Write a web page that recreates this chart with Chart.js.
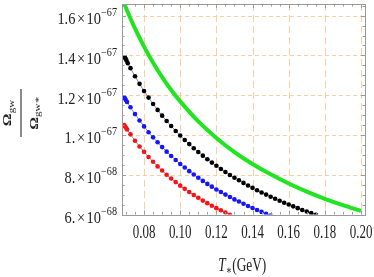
<!DOCTYPE html>
<html>
<head>
<meta charset="utf-8">
<script src="https://cdn.jsdelivr.net/npm/chart.js@4.4.1/dist/chart.umd.min.js"></script>
<style>
html, body { margin: 0; padding: 0; background: #fff; }
#wrap { width: 374px; height: 277px; }
</style>
</head>
<body>
<div id="wrap"><canvas id="c"></canvas></div>
<script>
// T* in GeV, Omega_gw/Omega_gw* in units of 1e-67
const tRed = [0.069, 0.0694, 0.0699, 0.0706, 0.0725, 0.075, 0.0775, 0.080, 0.0825, 0.085, 0.0875, 0.090, 0.0925, 0.095, 0.0975,
    0.100, 0.1025, 0.105, 0.1075, 0.110, 0.1125, 0.115, 0.1175, 0.120, 0.1225, 0.125, 0.1275];
const omegaRed = [1.050, 1.044, 1.037, 1.028, 1.003, 0.971, 0.942, 0.915, 0.889, 0.865, 0.842, 0.821, 0.800, 0.781, 0.763,
    0.745, 0.729, 0.713, 0.698, 0.684, 0.670, 0.657, 0.644, 0.632, 0.621, 0.610, 0.599];

const tBlue = [0.069, 0.0694, 0.0699, 0.0706, 0.0725, 0.075, 0.0775, 0.080, 0.0825, 0.085, 0.0875, 0.090, 0.0925, 0.095, 0.0975,
    0.100, 0.1025, 0.105, 0.1075, 0.110, 0.1125, 0.115, 0.1175, 0.120, 0.1225, 0.125, 0.1275, 0.130, 0.1325, 0.135, 0.1375,
    0.140, 0.1425, 0.145, 0.1475, 0.150];
const omegaBlue = [1.190, 1.184, 1.176, 1.166, 1.139, 1.105, 1.073, 1.043, 1.014, 0.988, 0.963, 0.939, 0.916, 0.894, 0.874,
    0.854, 0.836, 0.818, 0.801, 0.785, 0.769, 0.754, 0.740, 0.726, 0.713, 0.700, 0.688, 0.676, 0.665, 0.654, 0.643,
    0.633, 0.623, 0.613, 0.604, 0.595];

const tBlack = [0.0694, 0.0698, 0.0703, 0.0710, 0.0725, 0.075, 0.0775, 0.080, 0.0825, 0.085, 0.0875, 0.090, 0.0925, 0.095, 0.0975,
    0.100, 0.1025, 0.105, 0.1075, 0.110, 0.1125, 0.115, 0.1175, 0.120, 0.1225, 0.125, 0.1275, 0.130, 0.1325, 0.135, 0.1375,
    0.140, 0.1425, 0.145, 0.1475, 0.150, 0.1525, 0.155, 0.1575, 0.160, 0.1625, 0.165, 0.1675, 0.170, 0.1725, 0.175];
const omegaBlack = [1.390, 1.383, 1.374, 1.361, 1.336, 1.295, 1.257, 1.221, 1.188, 1.156, 1.126, 1.097, 1.070, 1.045, 1.020,
    0.997, 0.975, 0.954, 0.933, 0.914, 0.896, 0.878, 0.861, 0.845, 0.829, 0.814, 0.799, 0.785, 0.772, 0.759, 0.746,
    0.734, 0.722, 0.711, 0.700, 0.689, 0.679, 0.669, 0.659, 0.650, 0.641, 0.632, 0.623, 0.615, 0.607, 0.599];

const tGreen = [0.068, 0.070, 0.0725, 0.075, 0.080, 0.085, 0.090, 0.095, 0.100, 0.110, 0.120, 0.130, 0.140, 0.150,
    0.160, 0.170, 0.180, 0.190, 0.200];
const omegaGreen = [1.687, 1.640, 1.586, 1.536, 1.444, 1.363, 1.291, 1.226, 1.169, 1.068, 0.985, 0.914, 0.854, 0.802,
    0.756, 0.715, 0.679, 0.647, 0.618];

const xTicks = [0.08, 0.10, 0.12, 0.14, 0.16, 0.18, 0.20];
const yTicks = [0.6, 0.8, 1.0, 1.2, 1.4, 1.6];

function pairs(ts, vs) {
    return ts.map((t, i) => ({x: t, y: vs[i]}));
}

function dotted(ts, vs, color) {
    return {
        data: pairs(ts, vs),
        showLine: true,
        borderColor: '#8088c8',
        borderWidth: 1,
        pointRadius: 2.3,
        pointBorderWidth: 0,
        pointBackgroundColor: color,
        clip: 0
    };
}

const SERIF = '"Liberation Serif", "DejaVu Serif", serif';

// draws text squeezed horizontally like the original picture
function narrowText(ctx, text, x, y, size, sx, align, italic) {
    ctx.save();
    ctx.font = (italic ? 'italic ' : '') + size + 'px ' + SERIF;
    const w = ctx.measureText(text).width * sx;
    let x0 = x;
    if (align === 'center') x0 = x - w / 2;
    if (align === 'right') x0 = x - w;
    ctx.translate(x0, y);
    ctx.scale(sx, 1);
    ctx.textAlign = 'left';
    ctx.textBaseline = 'alphabetic';
    ctx.fillText(text, 0, 0);
    ctx.restore();
    return w;
}

function textWidth(ctx, text, size, sx, italic) {
    ctx.save();
    ctx.font = (italic ? 'italic ' : '') + size + 'px ' + SERIF;
    const w = ctx.measureText(text).width * sx;
    ctx.restore();
    return w;
}

const framePlugin = {
    id: 'frame',
    beforeDatasetsDraw(chart) {
        const {ctx, chartArea: a, scales: {x, y}} = chart;
        ctx.save();
        ctx.strokeStyle = 'rgba(250, 195, 140, 0.8)';
        ctx.lineWidth = 1;
        ctx.setLineDash([4, 3]);
        yTicks.forEach(v => {
            const py = Math.round(y.getPixelForValue(v)) + 0.5;
            if (py > a.bottom - 1) return;
            ctx.beginPath();
            ctx.moveTo(a.left, py);
            ctx.lineTo(a.right, py);
            ctx.stroke();
        });
        ctx.setLineDash([7, 4]);
        xTicks.forEach(v => {
            const px = Math.round(x.getPixelForValue(v)) + 0.5;
            ctx.beginPath();
            ctx.moveTo(px, a.top);
            ctx.lineTo(px, a.bottom);
            ctx.stroke();
        });
        ctx.restore();
    },
    afterDraw(chart) {
        const {ctx, chartArea: a, scales: {x, y}} = chart;
        ctx.save();
        // frame
        ctx.strokeStyle = '#9a9a9a';
        ctx.lineWidth = 1;
        ctx.strokeRect(Math.round(a.left) + 0.5, Math.round(a.top) + 0.5,
            Math.round(a.right - a.left), Math.round(a.bottom - a.top));

        // ticks inside the frame
        ctx.beginPath();
        for (let v = 0.07; v <= 0.2001; v += 0.005) {
            const major = xTicks.some(t => Math.abs(t - v) < 1e-6);
            const len = major ? 4 : 2.5;
            const px = Math.round(x.getPixelForValue(v)) + 0.5;
            ctx.moveTo(px, a.bottom); ctx.lineTo(px, a.bottom - len);
            ctx.moveTo(px, a.top); ctx.lineTo(px, a.top + len);
        }
        for (let v = 0.6; v <= 1.6501; v += 0.05) {
            const major = yTicks.some(t => Math.abs(t - v) < 1e-6);
            const len = major ? 4 : 2.5;
            const py = Math.round(y.getPixelForValue(v)) + 0.5;
            ctx.moveTo(a.left, py); ctx.lineTo(a.left + len, py);
            ctx.moveTo(a.right, py); ctx.lineTo(a.right - len, py);
        }
        ctx.stroke();

        ctx.fillStyle = '#222';
        // x tick labels
        xTicks.forEach(v => {
            narrowText(ctx, v.toFixed(2), x.getPixelForValue(v), 238, 18, 0.72, 'center');
        });

        // y tick labels: mantissa x 10^exp
        yTicks.forEach(v => {
            let m = v, e = -67;
            if (v < 0.999) { m = v * 10; e = -68; }
            const ms = Math.abs(m - Math.round(m)) < 1e-6 ? Math.round(m) + '.' : m.toFixed(1);
            const es = '\u2212' + Math.abs(e);
            const py = y.getPixelForValue(v);
            const sx = 0.85;
            const right = 117;
            const wExp = textWidth(ctx, es, 12, sx);
            const w10 = textWidth(ctx, '10', 17, sx);
            const wX = textWidth(ctx, '\u00d7', 17, sx);
            const wM = textWidth(ctx, ms, 17, sx);
            let cx = right - wExp - w10 - wX - wM - 3;
            narrowText(ctx, ms, cx, py + 8.5, 17, sx, 'left'); cx += wM + 1.5;
            narrowText(ctx, '\u00d7', cx, py + 8.5, 17, sx, 'left'); cx += wX + 1.5;
            narrowText(ctx, '10', cx, py + 8.5, 17, sx, 'left'); cx += w10;
            narrowText(ctx, es, cx, py + 0.5, 12, sx, 'left');
        });

        // x title: T_* (GeV)
        const cxT = 242;
        const wT = textWidth(ctx, 'T', 18, 0.74, true);
        const wS = textWidth(ctx, '\u2217', 12, 0.74);
        const wG = textWidth(ctx, '(GeV)', 18, 0.74);
        let tx = cxT - (wT + wS + wG) / 2;
        narrowText(ctx, 'T', tx, 271, 18, 0.74, 'left', true); tx += wT;
        narrowText(ctx, '\u2217', tx, 274, 12, 0.74, 'left'); tx += wS + 0.5;
        narrowText(ctx, '(GeV)', tx, 271, 18, 0.74, 'left');

        // y title: fraction Omega_gw / Omega_gw*, rotated
        ctx.save();
        ctx.translate(21, 113);
        ctx.scale(0.75, 1);
        ctx.rotate(-Math.PI / 2);
        ctx.textBaseline = 'alphabetic';
        ctx.textAlign = 'left';
        ctx.font = 'bold 16px ' + SERIF;
        const wO = ctx.measureText('\u03a9').width;
        ctx.font = '11px ' + SERIF;
        const wgw = ctx.measureText('gw').width;
        const wgws = ctx.measureText('gw\u2217').width;
        // numerator
        let u = -(wO + wgw) / 2;
        ctx.font = 'bold 16px ' + SERIF;
        ctx.fillText('\u03a9', u, -13);
        ctx.font = '11px ' + SERIF;
        ctx.fillText('gw', u + wO, -10);
        // bar
        ctx.fillRect(-24, -0.7, 48, 1.4);
        // denominator
        u = -(wO + wgws) / 2;
        ctx.font = 'bold 16px ' + SERIF;
        ctx.fillText('\u03a9', u, 22);
        ctx.font = '11px ' + SERIF;
        ctx.fillText('gw\u2217', u + wO, 25);
        ctx.restore();

        ctx.restore();
    }
};

new Chart(document.getElementById('c'), {
    type: 'scatter',
    data: {
        datasets: [
            {
                data: pairs(tGreen, omegaGreen),
                showLine: true,
                borderColor: '#1fe41f',
                borderWidth: 4,
                pointRadius: 0,
                tension: 0.3,
                clip: 0
            },
            dotted(tBlack, omegaBlack, '#000000'),
            dotted(tBlue, omegaBlue, '#1414ff'),
            dotted(tRed, omegaRed, '#ff1010')
        ]
    },
    options: {
        responsive: true,
        maintainAspectRatio: false,
        animation: false,
        devicePixelRatio: 1,
        layout: { padding: { top: 1.5, right: 9, left: 0, bottom: 0 } },
        plugins: { legend: { display: false }, tooltip: { enabled: false } },
        scales: {
            x: {
                type: 'linear',
                min: 0.0678,
                max: 0.2022,
                grid: { display: false },
                border: { display: false },
                ticks: { display: false },
                afterFit(scale) { scale.height = 62.5; }
            },
            y: {
                type: 'linear',
                min: 0.6,
                max: 1.6586,
                grid: { display: false },
                border: { display: false },
                ticks: { display: false },
                afterFit(scale) { scale.width = 122; }
            }
        }
    },
    plugins: [framePlugin]
});
</script>
</body>
</html>
